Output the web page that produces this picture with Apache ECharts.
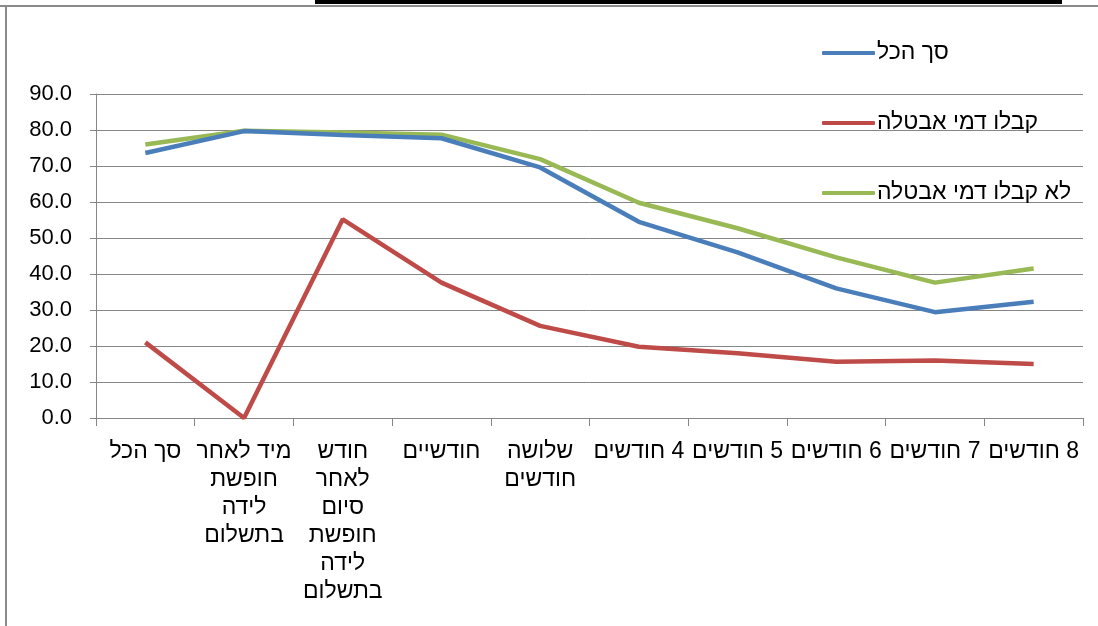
<!DOCTYPE html>
<html>
<head>
<meta charset="utf-8">
<script src="https://cdn.jsdelivr.net/npm/echarts@6/dist/echarts.min.js"></script>
<style>
html,body{margin:0;padding:0;background:#fff;}
#chart{width:1098px;height:626px;}
</style>
</head>
<body>
<div id="chart"></div>
<script>
const categories = [
  "סך הכל",
  "מיד לאחר\nחופשת\nלידה\nבתשלום",
  "חודש\nלאחר\nסיום\nחופשת\nלידה\nבתשלום",
  "חודשיים",
  "שלושה\nחודשים",
  "4 חודשים",
  "5 חודשים",
  "6 חודשים",
  "7 חודשים",
  "8 חודשים"
];
const seriesNames = ["סך הכל", "קבלו דמי אבטלה", "לא קבלו דמי אבטלה"];
const totalValues = [73.6, 79.7, 78.6, 77.7, 69.6, 54.5, 46.0, 36.0, 29.4, 32.3];
const receivedValues = [21.0, 0.0, 55.2, 37.6, 25.6, 19.8, 18.0, 15.6, 16.0, 15.0];
const notReceivedValues = [76.0, 79.8, 79.3, 78.7, 71.9, 59.8, 52.7, 44.6, 37.6, 41.5];
const yTicks = {min: 0, max: 90, step: 10};

const FONT = "'Liberation Sans', Arial, sans-serif";
const GRID = '#868686';
const rtl = s => s.split('\n').map(l => '\u202B' + l + '\u202C').join('\n');
const chart = echarts.init(document.getElementById('chart'), null, {renderer: 'canvas'});
chart.setOption({
  animation: false,
  backgroundColor: '#fff',
  textStyle: {fontFamily: FONT},
  grid: {left: 96, right: 15, top: 94, bottom: 208, containLabel: false},
  legend: {
    orient: 'vertical',
    left: 817,
    top: 36,
    icon: 'roundRect',
    itemWidth: 53,
    itemHeight: 4,
    itemGap: 46,
    textStyle: {fontSize: 23, color: '#000', fontFamily: FONT, lineHeight: 24, padding: [0, 0, 0, -3]},
    formatter: n => rtl(n),
    data: seriesNames
  },
  xAxis: {
    type: 'category',
    data: categories,
    boundaryGap: true,
    axisLine: {lineStyle: {color: GRID, width: 1}},
    axisTick: {show: true, length: 8, interval: 0, lineStyle: {color: GRID}},
    axisLabel: {interval: 0, color: '#000', fontSize: 23, lineHeight: 28, margin: 20, fontFamily: FONT, formatter: v => rtl(v)}
  },
  yAxis: {
    type: 'value',
    min: yTicks.min,
    max: yTicks.max,
    interval: yTicks.step,
    axisLine: {show: true, lineStyle: {color: GRID, width: 1}},
    axisTick: {show: true, length: 6, lineStyle: {color: GRID}},
    axisLabel: {color: '#000', fontSize: 22, margin: 24, fontFamily: FONT, formatter: v => v.toFixed(1)},
    splitLine: {show: true, lineStyle: {color: GRID, width: 1}}
  },
  series: [
    {name: seriesNames[0], type: 'line', data: totalValues, symbol: 'none', lineStyle: {width: 4.5, color: '#4A7EBB'}, itemStyle: {color: '#4A7EBB'}, z: 3},
    {name: seriesNames[1], type: 'line', data: receivedValues, symbol: 'none', lineStyle: {width: 4.5, color: '#BE4B48'}, itemStyle: {color: '#BE4B48'}, z: 2},
    {name: seriesNames[2], type: 'line', data: notReceivedValues, symbol: 'none', lineStyle: {width: 4.5, color: '#98B954'}, itemStyle: {color: '#98B954'}, z: 2}
  ],
  graphic: [
    {type: 'rect', shape: {x: 315, y: 0, width: 747, height: 4}, style: {fill: '#000'}, silent: true},
    {type: 'line', shape: {x1: 0, y1: 6, x2: 1098, y2: 6}, style: {stroke: '#8a8a8a', lineWidth: 2}, silent: true},
    {type: 'line', shape: {x1: 6, y1: 6, x2: 6, y2: 626}, style: {stroke: '#8a8a8a', lineWidth: 2}, silent: true}
  ]
});
</script>
</body>
</html>
